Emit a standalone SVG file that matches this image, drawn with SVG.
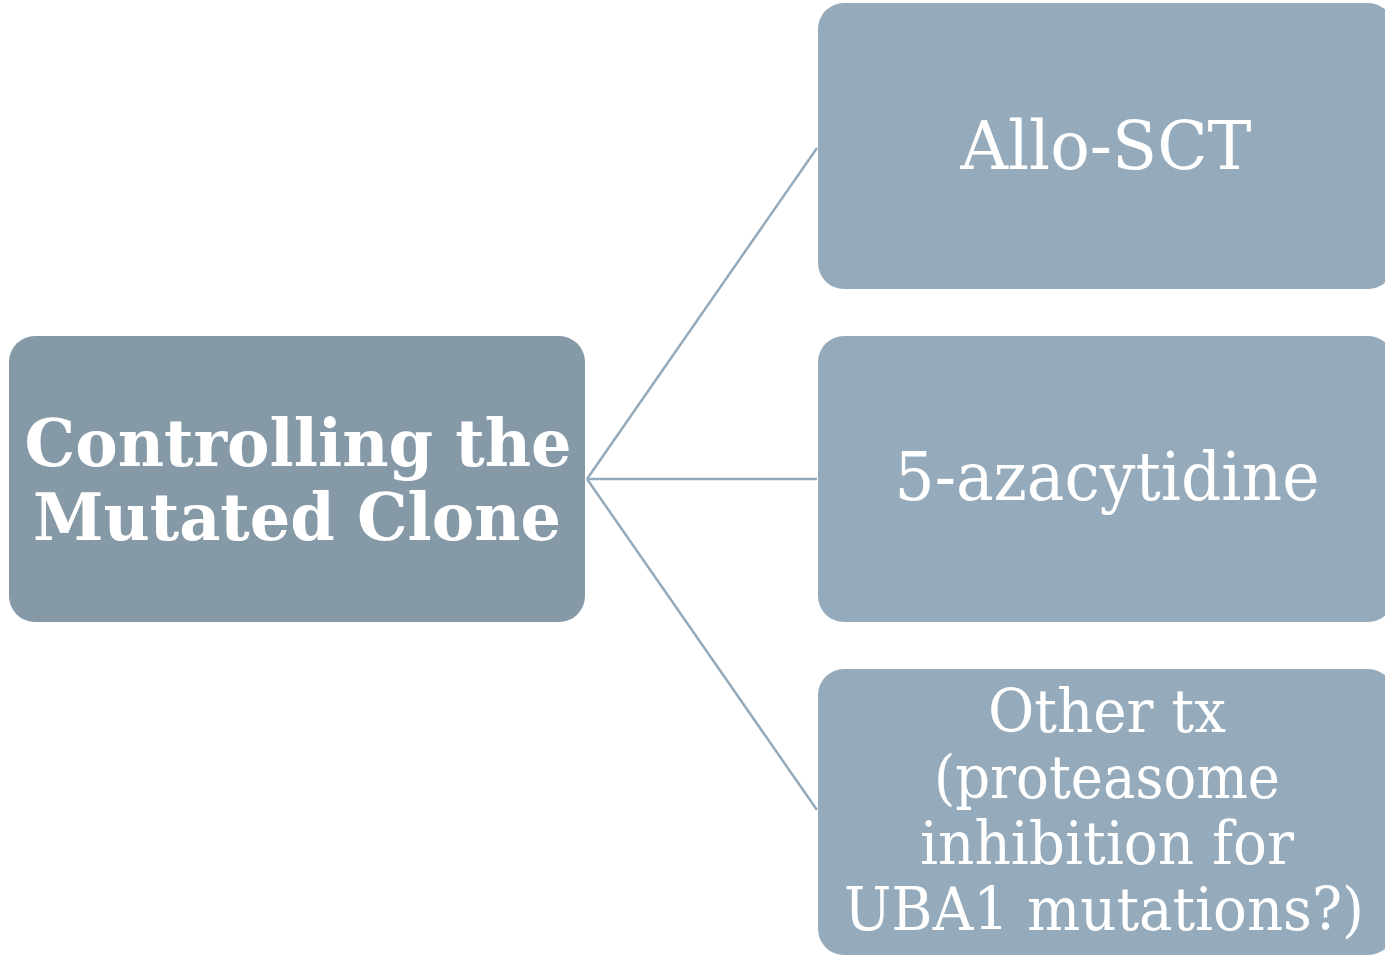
<svg xmlns="http://www.w3.org/2000/svg" width="1385" height="959" viewBox="0 0 1385 959">
<style>
.n1{fill:#8599a7}
.n2{fill:#95aaba}
.c{stroke:#95aaba;stroke-width:2.5;fill:none}
text{fill:#ffffff;font-family:"DejaVu Serif","Liberation Serif",serif;text-anchor:middle}
.b{font-weight:bold;font-size:66px}
.r{font-size:68px}
.s{font-size:60px}
</style>
<rect width="1385" height="959" fill="#ffffff"/>
<g id="connectors">
<line class="c" x1="587" y1="479" x2="817" y2="148"/>
<line class="c" x1="587" y1="479" x2="817" y2="479"/>
<line class="c" x1="587" y1="479" x2="817" y2="810"/>
</g>
<g id="root">
<rect class="n1" x="9" y="336" width="576" height="286" rx="26"/>
<text class="b" x="298" y="466" textLength="547" lengthAdjust="spacingAndGlyphs">Controlling the</text>
<text class="b" x="297" y="540" textLength="528" lengthAdjust="spacingAndGlyphs">Mutated Clone</text>
</g>
<g id="allo">
<rect class="n2" x="818" y="3" width="576" height="286" rx="26"/>
<text class="r" x="1106" y="169" textLength="291" lengthAdjust="spacingAndGlyphs">Allo-SCT</text>
</g>
<g id="aza">
<rect class="n2" x="818" y="336" width="576" height="286" rx="26"/>
<text class="r" x="1107" y="500" textLength="425" lengthAdjust="spacingAndGlyphs">5-azacytidine</text>
</g>
<g id="other">
<rect class="n2" x="818" y="669" width="576" height="286" rx="26"/>
<text class="s" x="1107" y="732" textLength="238" lengthAdjust="spacingAndGlyphs">Other tx</text>
<text class="s" x="1107" y="798" textLength="346" lengthAdjust="spacingAndGlyphs">(proteasome</text>
<text class="s" x="1107" y="864" textLength="374" lengthAdjust="spacingAndGlyphs">inhibition for</text>
<text class="s" x="1104" y="930" textLength="520" lengthAdjust="spacingAndGlyphs">UBA1 mutations?)</text>
</g>
</svg>
